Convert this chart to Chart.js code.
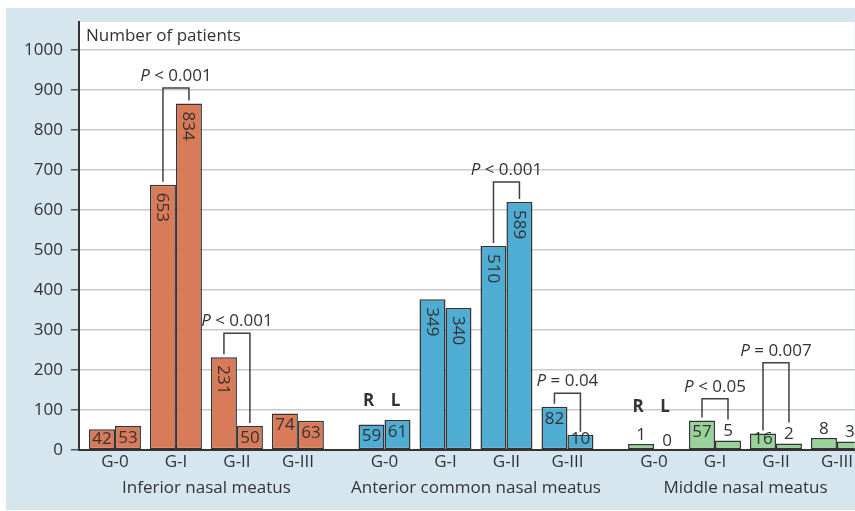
<!DOCTYPE html>
<html>
<head>
<meta charset="utf-8">
<script src="https://cdn.jsdelivr.net/npm/chart.js@4"></script>
<style>
  html, body { margin: 0; padding: 0; background: #ffffff; }
  canvas { display: block; }
</style>
</head>
<body>
<canvas id="c" width="855" height="511"></canvas>
<script>
// ---- data ----
const sections = ['Inferior nasal meatus', 'Anterior common nasal meatus', 'Middle nasal meatus'];
const grades = ['G-0', 'G-I', 'G-II', 'G-III'];
// bar heights (as drawn) for right (R) and left (L) sides, 4 grades per section
const rightHeights = [52, 663, 232, 91, 64, 377, 510, 108, 15, 74, 41, 30];
const leftHeights  = [60, 866, 60, 73, 75, 355, 620, 38, 0, 24, 16, 21];
// numbers printed on the bars
const rightLabels = ['42', '653', '231', '74', '59', '349', '510', '82', '1', '57', '16', '8'];
const leftLabels  = ['53', '834', '50', '63', '61', '340', '589', '10', '0', '5', '2', '3'];
// significance brackets
const pTexts     = ['< 0.001', '< 0.001', '< 0.001', '= 0.04', '< 0.05', '= 0.007'];
const pSlots     = [1, 2, 6, 7, 9, 10];
const pTops      = [905, 292, 670, 142, 128, 218];
// sections that show the R / L key
const rlSlots = [4, 8];
const yTicks = [0, 100, 200, 300, 400, 500, 600, 700, 800, 900, 1000];

// ---- layout helpers ----
const sectionColors = ['#d97b58', '#4fadd3', '#97d29a'];
const GROUP_STEP = 4.42;
const slotPos = i => Math.floor(i / 4) * GROUP_STEP + (i % 4);
const positions = rightHeights.map((_, i) => slotPos(i));
const colorFor = i => sectionColors[Math.floor(i / 4)];
const FONT = '"Open Sans", "Noto Sans", sans-serif';
const TXT = '#333333';

const decor = {
  id: 'decor',
  beforeDraw(chart) {
    const ctx = chart.ctx, a = chart.chartArea;
    ctx.save();
    ctx.fillStyle = '#d6e6ef';
    ctx.fillRect(6, 8, 849, 502);
    ctx.fillStyle = '#ffffff';
    ctx.fillRect(a.left, a.top, a.right - a.left, a.bottom - a.top);
    ctx.restore();
  },
  afterDraw(chart) {
    const ctx = chart.ctx, a = chart.chartArea;
    const xs = chart.scales.x, ys = chart.scales.y;
    ctx.save();
    ctx.fillStyle = TXT;
    ctx.font = '17px ' + FONT;
    ctx.textBaseline = 'middle';
    ctx.textAlign = 'left';
    ctx.fillText('Number of patients', a.left + 7, 36);

    // section labels
    ctx.textAlign = 'center';
    for (let s = 0; s < sections.length; s++) {
      const cx = (xs.getPixelForValue(slotPos(s * 4)) + xs.getPixelForValue(slotPos(s * 4 + 3))) / 2;
      ctx.fillText(sections[s], cx, 488);
    }

    // value labels
    const labelTops = [[], []];
    [rightLabels, leftLabels].forEach((labels, d) => {
      const meta = chart.getDatasetMeta(d);
      const vals = d === 0 ? rightHeights : leftHeights;
      meta.data.forEach((el, i) => {
        const v = vals[i];
        const txt = labels[i];
        ctx.fillStyle = TXT;
        ctx.font = '17px ' + FONT;
        if (v >= 200) {
          ctx.save();
          ctx.translate(el.x - 1, el.y + 8);
          ctx.rotate(Math.PI / 2);
          ctx.textAlign = 'left';
          ctx.textBaseline = 'middle';
          ctx.fillText(txt, 0, 0);
          ctx.restore();
          labelTops[d][i] = el.y;
        } else if (v >= 35) {
          ctx.textAlign = 'center';
          ctx.textBaseline = 'middle';
          const cy = Math.min(el.y + 12, el.base - 10);
          ctx.fillText(txt, el.x, cy);
          labelTops[d][i] = el.y;
        } else {
          ctx.textAlign = 'center';
          ctx.textBaseline = 'middle';
          const cy = el.y - 9;
          ctx.fillText(txt, el.x, cy);
          labelTops[d][i] = cy - 9;
        }
      });
    });

    // brackets
    ctx.strokeStyle = '#404040';
    ctx.lineWidth = 1.5;
    pSlots.forEach((slot, k) => {
      const r = chart.getDatasetMeta(0).data[slot];
      const l = chart.getDatasetMeta(1).data[slot];
      const top = ys.getPixelForValue(pTops[k]);
      const yl = labelTops[0][slot] - 3, yr = labelTops[1][slot] - 3;
      ctx.beginPath();
      ctx.moveTo(r.x, yl);
      ctx.lineTo(r.x, top);
      ctx.lineTo(l.x, top);
      ctx.lineTo(l.x, yr);
      ctx.stroke();
      // text: italic P then rest
      const cx = (r.x + l.x) / 2;
      ctx.textBaseline = 'alphabetic';
      ctx.font = 'italic 17px ' + FONT;
      const wP = ctx.measureText('P').width;
      ctx.font = '17px ' + FONT;
      const rest = ' ' + pTexts[k];
      const wR = ctx.measureText(rest).width;
      const x0 = cx - (wP + wR) / 2;
      ctx.textAlign = 'left';
      ctx.font = 'italic 17px ' + FONT;
      ctx.fillText('P', x0, top - 7);
      ctx.font = '17px ' + FONT;
      ctx.fillText(rest, x0 + wP, top - 7);
    });

    // R / L key
    ctx.font = 'bold 17px ' + FONT;
    ctx.textAlign = 'center';
    ctx.textBaseline = 'middle';
    rlSlots.forEach(slot => {
      const r = chart.getDatasetMeta(0).data[slot];
      const l = chart.getDatasetMeta(1).data[slot];
      const t = Math.min(labelTops[0][slot], labelTops[1][slot]);
      ctx.fillText('R', r.x - 3, t - 19);
      ctx.fillText('L', l.x - 2, t - 19);
    });
    ctx.restore();
  }
};

new Chart(document.getElementById('c'), {
  type: 'bar',
  data: {
    datasets: [
      {
        label: 'R',
        data: rightHeights.map((v, i) => ({ x: positions[i], y: v })),
        backgroundColor: rightHeights.map((_, i) => colorFor(i)),
        borderColor: '#333333',
        borderWidth: 1.5,
        borderSkipped: false
      },
      {
        label: 'L',
        data: leftHeights.map((v, i) => ({ x: positions[i], y: v })),
        backgroundColor: leftHeights.map((_, i) => colorFor(i)),
        borderColor: '#333333',
        borderWidth: 1.5,
        borderSkipped: false
      }
    ]
  },
  options: {
    responsive: false,
    animation: false,
    devicePixelRatio: 1,
    categoryPercentage: 0.852,
    barPercentage: 1,
    layout: { padding: { top: 22, left: 0, right: 0, bottom: 0 } },
    plugins: { legend: { display: false }, tooltip: { enabled: false } },
    scales: {
      x: {
        type: 'linear',
        min: -0.59,
        max: 12.13,
        offset: false,
        grid: { display: false, drawTicks: false },
        border: { display: true, color: '#333333', width: 2 },
        ticks: {
          font: { family: FONT, size: 17 },
          color: TXT,
          padding: 2,
          maxRotation: 0,
          autoSkip: false,
          callback: (v, i) => grades[i % 4]
        },
        afterBuildTicks: sc => { sc.ticks = positions.map(p => ({ value: p })); },
        afterFit: sc => { sc.height = 61; }
      },
      y: {
        min: 0,
        max: 1070,
        ticks: {
          stepSize: 100,
          includeBounds: false,
          font: { family: FONT, size: 17 },
          color: TXT,
          padding: 8,
          callback: v => String(v)
        },
        afterBuildTicks: sc => { sc.ticks = yTicks.map(v => ({ value: v })); },
        grid: { color: '#c9c9c9', lineWidth: 1.5, tickColor: '#555555', tickLength: 8 },
        border: { display: true, color: '#333333', width: 2 },
        afterFit: sc => { sc.width = 79; }
      }
    }
  },
  plugins: [decor]
});
</script>
</body>
</html>
